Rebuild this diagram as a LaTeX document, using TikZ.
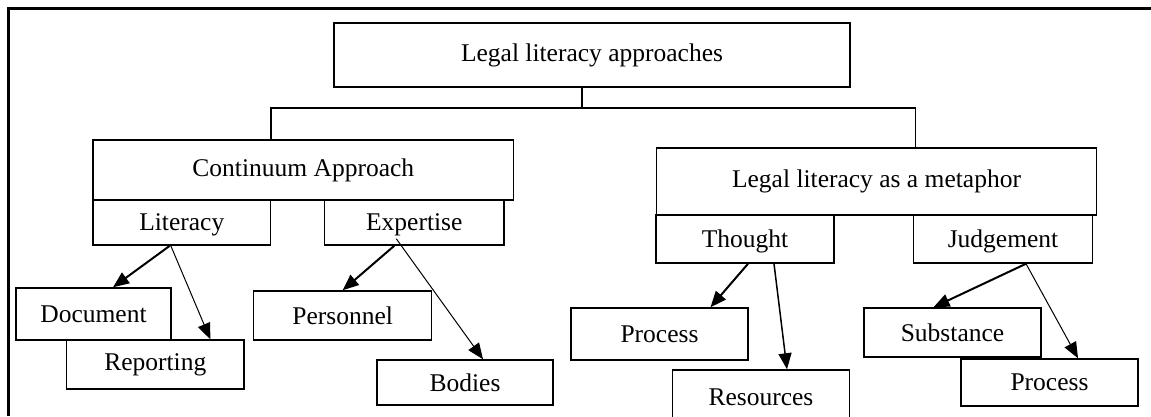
\documentclass[tikz,border=0pt]{standalone}
\usepackage{fontspec}
\setmainfont{Liberation Serif}
\usetikzlibrary{arrows.meta}

\begin{document}
\begin{tikzpicture}[x=1pt, y=-1pt, line width=1.5pt,
  font=\fontsize{25.5}{30}\selectfont,
  box/.style={draw, inner sep=0pt},
  subbox/.style={box, text depth=0pt},
  arr/.style={-{Triangle[length=16pt, width=13pt]}, line width=2pt},
  midarr/.style={arr, line width=1.5pt},
  thinarr/.style={arr, line width=1pt}]
  \useasboundingbox (0,0) rectangle (1151,416);
  % frame (top and left edge only)
  \draw[line width=2.7pt] (1151,8.7) -- (8.7,8.7) -- (8.7,416);

  % root and the two approaches
  \node[box, minimum width=516pt, minimum height=64pt] (top) at (592,55) {Legal literacy approaches};
  \node[box, minimum width=420.6pt, minimum height=60pt] (cont) at (303.3,170) {Continuum Approach};
  \node[box, minimum width=440pt, minimum height=67pt] (meta) at (876.5,181.5) {Legal literacy as a metaphor};

  % sub-boxes under each approach
  \node[subbox, minimum width=177.6pt, minimum height=45pt] (lit) at (181.8,222.5) {Literacy};
  \node[subbox, minimum width=179.5pt, minimum height=45pt] (exp) at (414.3,222.5) {Expertise};
  \node[subbox, minimum width=178pt, minimum height=48pt] (thought) at (745,239) {Thought};
  \node[subbox, minimum width=179pt, minimum height=48pt] (judge) at (1003,239) {Judgement};

  % leaves
  \node[box, minimum width=155pt, minimum height=52pt] (doc) at (93.5,314) {Document};
  \node[box, minimum width=177.4pt, minimum height=49pt] (rep) at (155.3,364.5) {Reporting};
  \node[box, minimum width=178pt, minimum height=49pt] (pers) at (342.7,315.5) {Personnel};
  \node[box, minimum width=176pt, minimum height=45pt] (bod) at (465,382.5) {Bodies};
  \node[box, minimum width=177pt, minimum height=52pt] (procA) at (659.5,334) {Process};
  \node[box, minimum width=177.2pt, minimum height=54pt] (res) at (761,397) {Resources};
  \node[box, minimum width=177pt, minimum height=49pt] (subst) at (952.5,332.5) {Substance};
  \node[box, minimum width=177pt, minimum height=47pt] (procB) at (1049.5,382.5) {Process};

  % bus from the root
  \coordinate (stem) at (582,108);
  \coordinate (busL) at (271,108);
  \coordinate (busR) at (915.5,108);
  \draw (stem |- top.south) -- (stem);
  \draw (busL |- cont.north) -- (busL) -- (busR) -- (busR |- meta.north);

  % arrows
  \draw[arr] ([xshift=-12pt]lit.south) -- ([xshift=19.5pt]doc.north);
  \draw[thinarr] ([xshift=-11pt]lit.south) -- ([xshift=55pt]rep.north);
  \draw[arr] ([xshift=-20pt]exp.south) -- (pers.north);
  \draw[thinarr] ([xshift=-18pt, yshift=7pt]exp.south) -- ([xshift=18pt]bod.north);
  \draw[arr] ([xshift=3pt]thought.south) -- ([xshift=51pt]procA.north);
  \draw[midarr] ([xshift=29pt]thought.south) -- ([xshift=26pt]res.north);
  \draw[arr] ([xshift=23pt]judge.south) -- ([xshift=-19pt]subst.north);
  \draw[thinarr] ([xshift=23pt]judge.south) -- ([xshift=28.5pt]procB.north);
\end{tikzpicture}
\end{document}
